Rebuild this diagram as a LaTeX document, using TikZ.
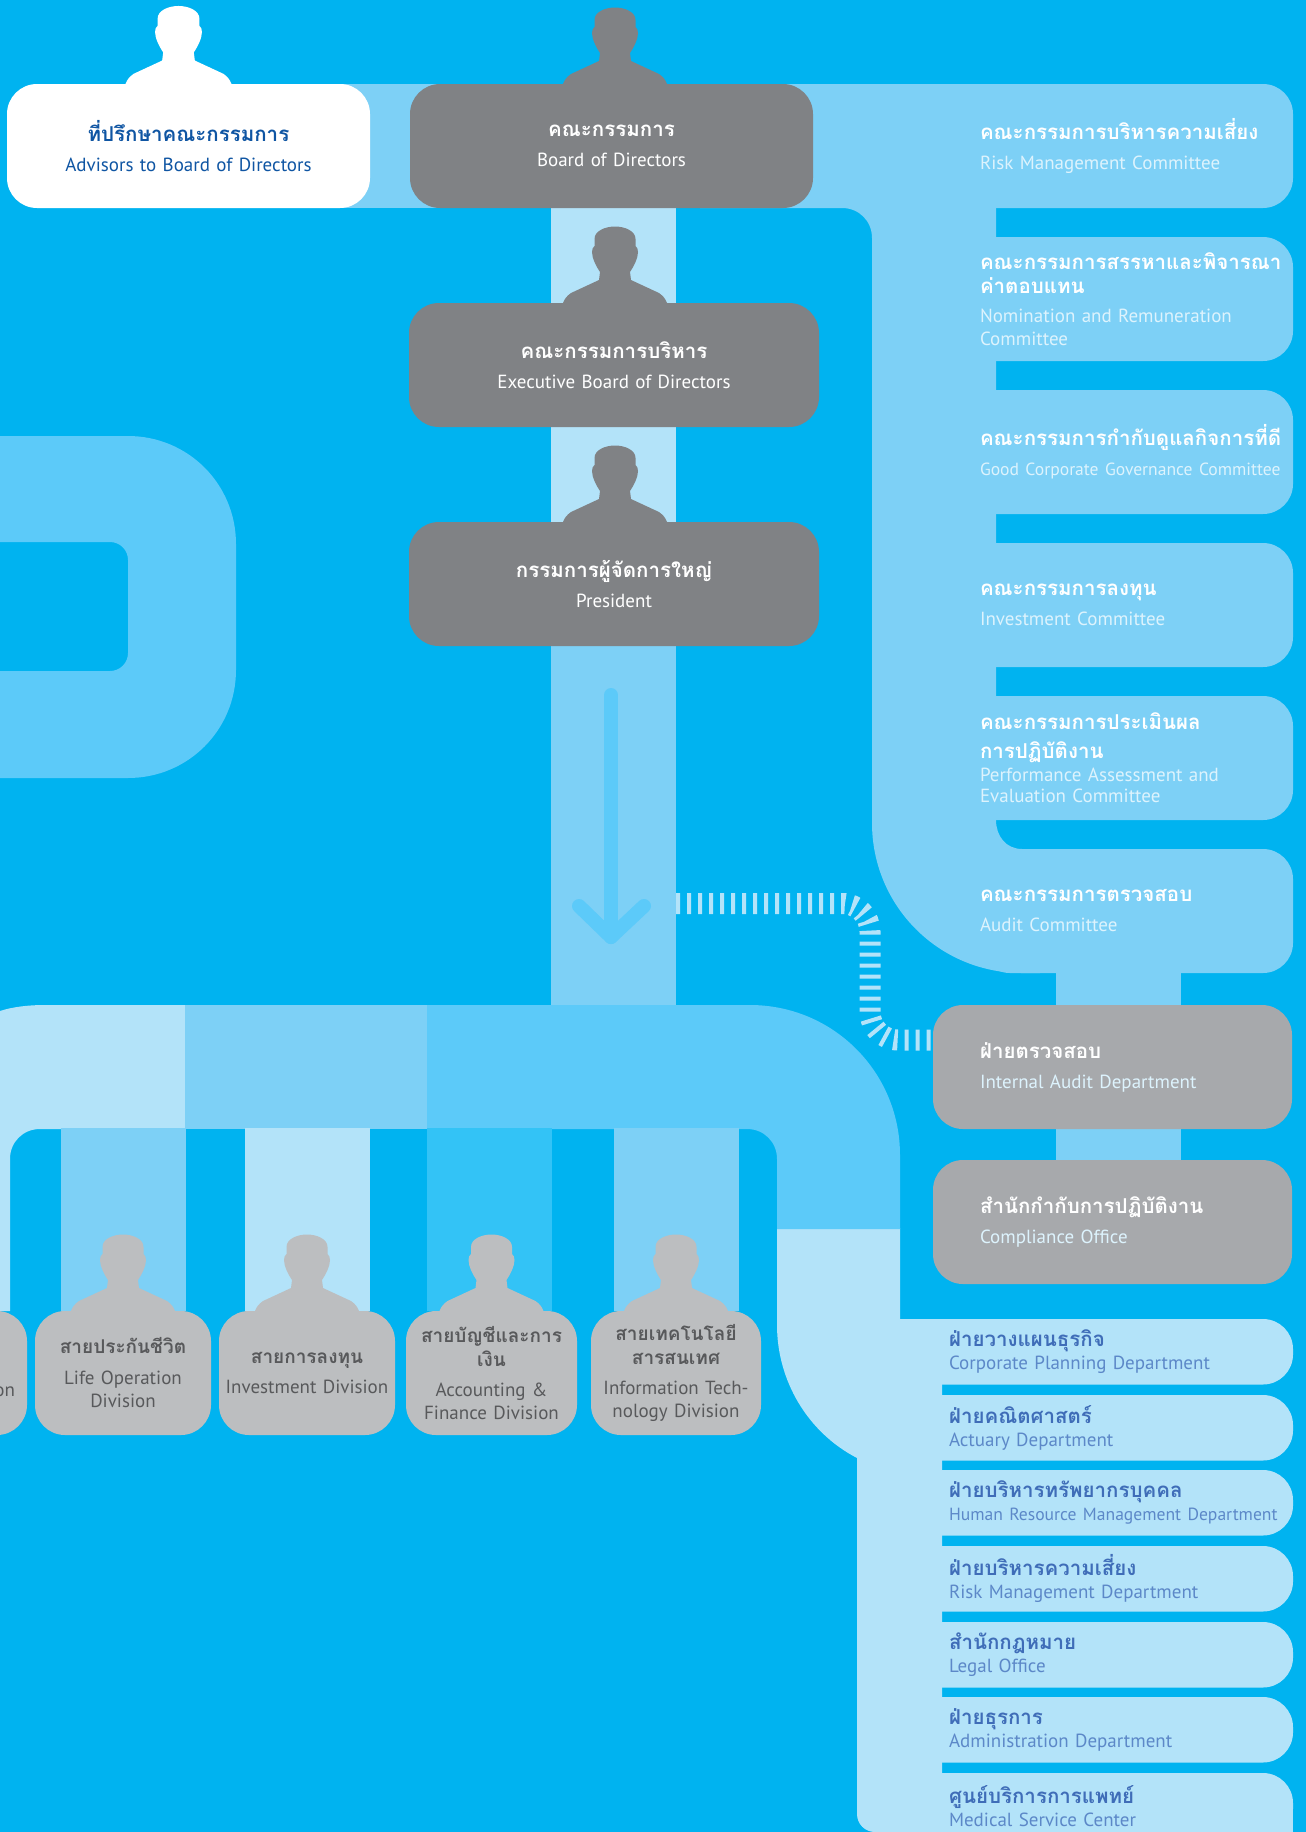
\documentclass[tikz,border=0pt]{standalone}
\usepackage{fontspec}
\setmainfont{PT Sans}
\newfontfamily\thaifont[Script=Thai]{Loma}
\usetikzlibrary{backgrounds}
\definecolor{skybg}{RGB}{0,179,240}
\definecolor{palepipe}{RGB}{179,227,249}
\definecolor{midpipe}{RGB}{125,208,246}
\definecolor{brightpipe}{RGB}{92,202,249}
\definecolor{deeppipe}{RGB}{51,195,246}
\definecolor{boardgrey}{RGB}{128,130,133}
\definecolor{auditgrey}{RGB}{167,169,172}
\definecolor{divgrey}{RGB}{188,190,192}
\definecolor{divtext}{RGB}{88,89,91}
\definecolor{advisorblue}{RGB}{15,85,163}
\definecolor{deptblue}{RGB}{63,109,184}
\definecolor{deptsub}{RGB}{92,136,200}
\definecolor{palesub}{RGB}{221,243,253}
\newcommand{\thaitext}[2][20.5]{{\thaifont\bfseries\fontsize{#1}{24}\selectfont #2}}
\newcommand{\divhead}[1]{\thaitext[19]{#1}}
\newcommand{\placed}[2]{\makebox[\linewidth][l]{\hspace*{#1}#2}}
\newcommand{\commhead}[1]{\placed{100pt}{\thaitext{#1}}}
\newcommand{\commsub}[1]{\placed{100pt}{\textcolor{palesub}{#1}}}
\newcommand{\audhead}[1]{\placed{47pt}{\thaitext{#1}}}
\newcommand{\audsub}[1]{\placed{47pt}{\textcolor{palesub}{#1}}}
\newcommand{\tightsize}{\fontsize{17.6}{23}\selectfont}
\newcommand{\person}[1]{\fill[#1] (-52,0) .. controls (-50,-5) and (-48,-7) .. (-44,-10) -- (-16,-23) -- (-15,-31)
      .. controls (-19,-37) and (-23,-45) .. (-23,-51) .. controls (-23,-54) and (-22,-56) .. (-20.5,-57)
      -- (-20.5,-64) .. controls (-20.5,-72) and (-10,-76.5) .. (0,-76.5)
      .. controls (10,-76.5) and (20.5,-72) .. (20.5,-64) -- (20.5,-57)
      .. controls (22,-56) and (23,-54) .. (23,-51) .. controls (23,-45) and (19,-37) .. (15,-31)
      -- (16,-23) -- (44,-10) .. controls (48,-7) and (50,-5) .. (52,0) -- cycle;}
\tikzset{
  x=1pt, y=-1pt,
  every node/.style={outer sep=0pt, inner sep=0pt},
  chart/.style={rectangle, rounded corners=30pt, anchor=north west, minimum height=124pt,
    font=\fontsize{19}{23}\selectfont\lineskiplimit-50pt\relax},
  centrebox/.style={chart, align=center, text width=#1, minimum width=#1, text=white},
  committee/.style={centrebox=413pt, fill=midpipe},
  auditbox/.style={centrebox=359pt, fill=auditgrey},
  department/.style={centrebox=393pt, fill=palepipe, minimum height=65.5pt},
  division/.style={centrebox=#1, fill=divgrey, text=divtext},
  strip/.style={line width=125pt},
  tickline/.style={palepipe, line width=21pt, rounded corners=28pt, dash pattern=on 4pt off 7pt},
  bigarrow/.style={brightpipe, line width=14pt, line cap=round, line join=round},
}
\begin{document}
\begin{tikzpicture}
  \useasboundingbox (0,0) rectangle (1306,1832);
  \clip (0,0) rectangle (1306,1832);

  % top row
  \node[centrebox=363pt, fill=white, text=advisorblue] (advisors) at (7,84) {\thaitext{ที่ปรึกษาคณะกรรมการ}\\[7pt]Advisors to Board of Directors};
  \node[centrebox=403pt, fill=boardgrey] (board) at (410,84) {\thaitext{คณะกรรมการ}\\[7pt]Board of Directors};
  \node[centrebox=410pt, fill=boardgrey] (exec) at (409,303) {\thaitext{คณะกรรมการบริหาร}\\[7pt]Executive Board of Directors};
  \node[centrebox=410pt, fill=boardgrey] (president) at (409,522) {\thaitext{กรรมการผู้จัดการใหญ่}\\[7pt]President};
  \person{white, shift={([xshift=-10pt]advisors.north)}, scale=1.02}
  \person{boardgrey, shift={([xshift=3.5pt]board.north)}}
  \person{boardgrey, shift={([xshift=1pt]exec.north)}}
  \person{boardgrey, shift={([xshift=1pt]president.north)}}

  % committees
  \node[committee] (riskcomm) at (880,84) {\commhead{คณะกรรมการบริหารความเสี่ยง}\\[7pt]\commsub{Risk Management Committee}};
  \node[committee] (nomination) at (880,237) {\commhead{คณะกรรมการสรรหาและพิจารณา}\\[1pt]\commhead{ค่าตอบแทน}\\[6pt]\commsub{Nomination and Remuneration}\\\commsub{Committee}};
  \node[committee] (governance) at (880,390) {\commhead{คณะกรรมการกำกับดูแลกิจการที่ดี}\\[7pt]\commsub{\tightsize Good Corporate Governance Committee}};
  \node[committee] (investment) at (880,543) {\commhead{คณะกรรมการลงทุน}\\[7pt]\commsub{Investment Committee}};
  \node[committee] (assessment) at (880,696) {\commhead{คณะกรรมการประเมินผล}\\[6pt]\commhead{การปฏิบัติงาน}\\\commsub{Performance Assessment and}\\[-2pt]\commsub{Evaluation Committee}};
  \node[centrebox=313pt, fill=midpipe] (audit) at (980,849) {\placed{0pt}{\thaitext{คณะกรรมการตรวจสอบ}}\\[7pt]\placed{0pt}{\textcolor{palesub}{Audit Committee}}};
  \node[auditbox] (internal) at (933,1005) {\audhead{ฝ่ายตรวจสอบ}\\[7pt]\audsub{Internal Audit Department}};
  \node[auditbox] (compliance) at (933,1160) {\audhead{สำนักกำกับการปฏิบัติงาน}\\[7pt]\audsub{Compliance Office}};

  % departments
  \foreach \ypos/\deptname/\thainame/\engname in {
    1319/planning/ฝ่ายวางแผนธุรกิจ/Corporate Planning Department,
    1395/actuary/ฝ่ายคณิตศาสตร์/Actuary Department,
    1470/human/ฝ่ายบริหารทรัพยากรบุคคล/\tightsize Human Resource Management Department,
    1546/riskdept/ฝ่ายบริหารความเสี่ยง/Risk Management Department,
    1622/legal/สำนักกฎหมาย/Legal Office,
    1697/admin/ฝ่ายธุรการ/Administration Department,
    1773/medical/ศูนย์บริการการแพทย์/Medical Service Center}
    \node[department] (\deptname) at (900,\ypos) {\placed{49pt}{\textcolor{deptblue}{\thaitext{\thainame}}}\\\placed{49pt}{\textcolor{deptsub}{\engname}}};

  % divisions
  \node[division=177pt] (operation) at (-150,1311) {};
  \node[text=divtext, anchor=east, font=\fontsize{19}{23}\selectfont] (operationtext) at (15,1392) {on};
  \node[division=176pt] (life) at (35,1311) {\divhead{สายประกันชีวิต}\\[8pt]Life Operation\\Division};
  \node[division=176pt] (invest) at (219,1311) {\divhead{สายการลงทุน}\\[7pt]Investment Division};
  \node[division=171pt] (accounting) at (406,1311) {\divhead{สายบัญชีและการ}\\[1pt]\divhead{เงิน}\\[7pt]Accounting \&\\Finance Division};
  \node[division=170pt] (tech) at (591,1311) {\divhead{สายเทคโนโลยี}\\[1pt]\divhead{สารสนเทศ}\\[7pt]Information Tech-\\nology Division};
  \person{divgrey, shift={(life.north)}}
  \person{divgrey, shift={(invest.north)}}
  \person{divgrey, shift={(accounting.north)}}
  \person{divgrey, shift={(tech.north)}}

  \begin{scope}[on background layer]
    \fill[skybg] (0,0) rectangle (1306,1832);
    % ring at the left edge
    \fill[brightpipe] (0,436) -- (128,436) .. controls (188,436) and (236,484) .. (236,544) -- (236,670)
      .. controls (236,730) and (188,778) .. (128,778) -- (0,778) -- (0,671) -- (110,671)
      .. controls (120,671) and (128,663) .. (128,653) -- (128,560) .. controls (128,550) and (120,542) .. (110,542)
      -- (0,542) -- cycle;
    % committee trunk
    \fill[midpipe] (700,84) -- (996,84) -- (996,820) .. controls (996,836) and (1006,849) .. (1022,849) -- (1040,849) -- (1040,973)
      -- (1022,973) .. controls (939,973) and (872,906) .. (872,823) -- (872,238)
      .. controls (872,221) and (859,208) .. (842,208) -- (700,208) -- cycle;
    \draw[midpipe, line width=124pt] ([xshift=-40pt]advisors.east) -- ([xshift=40pt]board.west);
    % division band
    \fill[palepipe] (0,1011) .. controls (12,1007) and (28,1005) .. (45,1005) -- (186,1005) -- (186,1129) -- (40,1129)
      .. controls (23,1129) and (10,1142) .. (10,1159) -- (10,1311) -- (0,1311) -- cycle;
    \fill[midpipe] (185,1005) rectangle (428,1129);
    \fill[palepipe] (777,1228) -- (900,1228) -- (900,1319) -- (942,1319) -- (942,1832) -- (875,1832)
      .. controls (865,1832) and (857,1824) .. (857,1814) -- (857,1458) .. controls (807,1432) and (777,1380) .. (777,1325) -- cycle;
    \fill[palepipe] (medical.west) rectangle (1293,1860);
    \fill[brightpipe] (427,1005) -- (750,1005) .. controls (833,1005) and (900,1072) .. (900,1155) -- (900,1229)
      -- (777,1229) -- (777,1159) .. controls (777,1142) and (764,1129) .. (747,1129) -- (427,1129) -- cycle;
    % vertical strips
    \coordinate (spine) at (613.5,0);
    \coordinate (auditdrop) at (1118.5,0);
    \coordinate (bandfoot) at (0,1128);
    \draw[strip, palepipe] (board.south -| spine) -- (exec.north -| spine);
    \draw[strip, palepipe] (exec.south -| spine) -- (president.north -| spine);
    \draw[strip, midpipe] (president.south -| spine) -- (spine |- internal.north);
    \draw[strip, midpipe] (audit.south -| auditdrop) -- (internal.north -| auditdrop);
    \draw[strip, midpipe] (internal.south -| auditdrop) -- (compliance.north -| auditdrop);
    \draw[strip, midpipe] (life.north) -- (life.north |- bandfoot);
    \draw[strip, palepipe] (invest.north) -- (invest.north |- bandfoot);
    \draw[strip, deeppipe] ([xshift=-2pt]accounting.north) -- ([xshift=-2pt]accounting.north |- bandfoot);
    \draw[strip, midpipe] (tech.north) -- (tech.north |- bandfoot);
    % audit link
    \coordinate (tickstart) at (676,903.5);
    \draw[tickline] (tickstart) -- (870,903.5) -- (870,1040) -- ([yshift=27pt]internal.west);
    % arrow down the spine
    \coordinate (arrowtop) at (611,695);
    \coordinate (arrowtip) at (611,937);
    \draw[bigarrow] (arrowtop) -- (arrowtip);
    \draw[bigarrow] ([xshift=-32pt,yshift=31pt]arrowtip) -- (arrowtip) -- ([xshift=33pt,yshift=31pt]arrowtip);
  \end{scope}
\end{tikzpicture}
\end{document}
